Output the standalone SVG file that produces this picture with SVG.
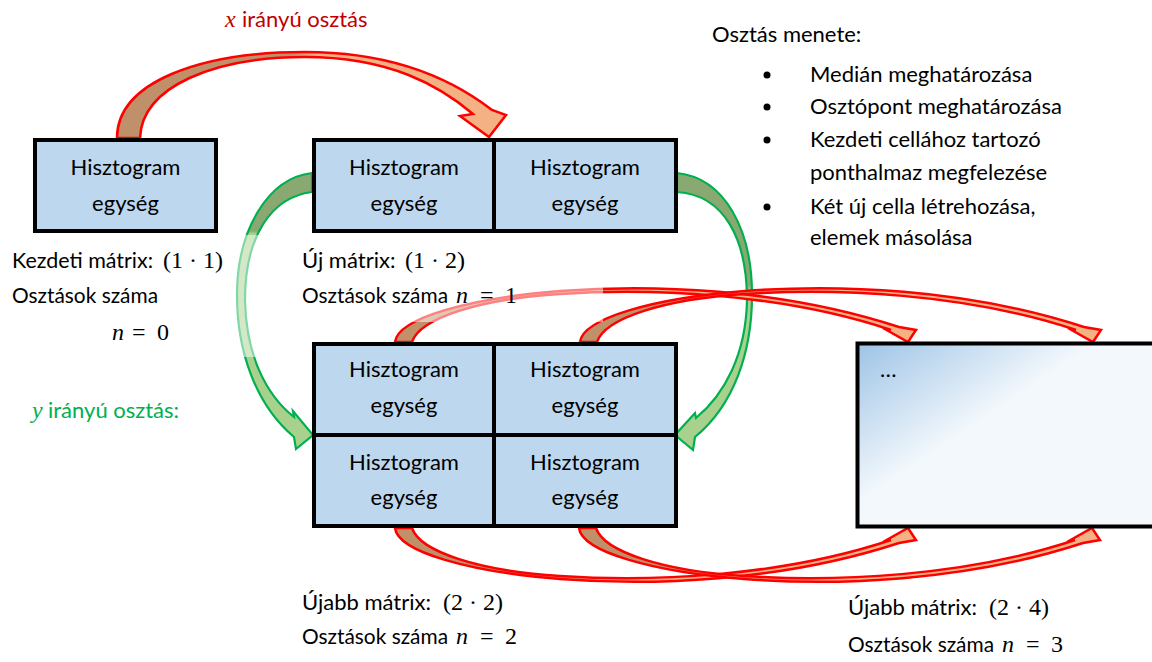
<svg xmlns="http://www.w3.org/2000/svg" width="1152" height="662" viewBox="0 0 1152 662">
<defs>
<style>
.t{font-family:Lato,"Liberation Sans",sans-serif;font-size:22px;fill:#000}
.m{font-family:"Liberation Serif",serif;font-size:24px}
.i{font-style:italic}
.box{fill:#BDD7EE;stroke:#000;stroke-width:4}
.ra{stroke:#FF0000;stroke-width:2.5;stroke-linejoin:miter}
.ga{stroke:#00B050;stroke-width:2.2;stroke-linejoin:miter}
.c{text-anchor:middle}
</style>
<linearGradient id="gx" gradientUnits="userSpaceOnUse" x1="117" y1="0" x2="506" y2="0">
<stop offset="0" stop-color="#C0906A"/><stop offset="0.45" stop-color="#C0906A"/><stop offset="0.52" stop-color="#F4B183"/><stop offset="1" stop-color="#F4B183"/>
</linearGradient>
<linearGradient id="gr" gradientUnits="userSpaceOnUse" x1="395" y1="0" x2="916" y2="0">
<stop offset="0" stop-color="#C0906A"/><stop offset="0.2" stop-color="#C0906A"/><stop offset="0.5" stop-color="#F4B183"/><stop offset="1" stop-color="#F4B183"/>
</linearGradient>
<linearGradient id="ggl" gradientUnits="userSpaceOnUse" x1="0" y1="173" x2="0" y2="449">
<stop offset="0" stop-color="#8AA872"/><stop offset="0.21" stop-color="#8AA872"/><stop offset="0.22" stop-color="#A9D18E"/><stop offset="1" stop-color="#A9D18E"/>
</linearGradient>
<linearGradient id="ggr" gradientUnits="userSpaceOnUse" x1="0" y1="173" x2="0" y2="450">
<stop offset="0" stop-color="#8AA872"/><stop offset="0.4" stop-color="#8AA872"/><stop offset="0.43" stop-color="#A9D18E"/><stop offset="1" stop-color="#A9D18E"/>
</linearGradient>
<linearGradient id="gbig" gradientUnits="userSpaceOnUse" x1="857" y1="343" x2="940" y2="466">
<stop offset="0" stop-color="#9DC3E6"/><stop offset="0.9" stop-color="#F3F8FC"/><stop offset="1" stop-color="#F3F8FC"/>
</linearGradient>
<path id="ra" d="M395,342 C398,318 470,298 560,291 C650,284 780,288 899,327 L916,330 L908,342 L883,328 L891,330 C780,293 650,288 560,294 C480,299 420,318 412,342 Z"/>
<path id="rc" d="M395,528 C398,552 470,572 560,579 C650,586 780,582 899,543 L916,540 L908,528 L883,542 L891,540 C780,577 650,582 560,576 C480,571 420,552 412,528 Z"/>
</defs>
<rect width="1152" height="662" fill="#fff"/>

<g id="connectors">
<path class="ga" fill="url(#ggl)" d="M312,173 C268,178 237,230 237,295 C237,352 256,405 294,437 L296,449 L313,435 L293,411 L294,417 C266,395 246,355 245,300 C245,235 272,197 312,192 Z"/>
<path class="ga" fill="url(#ggr)" d="M677,173 C725,178 752,230 752,295 C752,352 734,405 695,437 L693,450 L675,435 L695,413 L696,418 C724,395 746,355 747,300 C747,240 725,195 677,192 Z"/>
<path class="ra" fill="url(#gx)" d="M117,138 C117,82 200,52 305,52 C390,52 448,76 492,110 L506,115 L489,137 L460,116 L473,114 C440,86 390,57 305,57 C215,57 142,86 140,138 Z"/>
<use href="#ra" class="ra" fill="url(#gr)"/>
<g transform="translate(185,0)"><use href="#ra" class="ra" fill="url(#gr)"/></g>
<use href="#rc" class="ra" fill="url(#gr)"/>
<g transform="translate(184,0)"><use href="#rc" class="ra" fill="url(#gr)"/></g>
</g>

<rect x="0" y="235" width="262" height="122" fill="#fff" fill-opacity="0.5"/>
<rect x="300" y="238" width="303" height="84" fill="#fff" fill-opacity="0.5"/>

<g id="node-start">
<rect class="box" x="35" y="140" width="181" height="91"/>
<text class="t c" x="125.5" y="175">Hisztogram</text>
<text class="t c" x="125.5" y="211">egység</text>
</g>
<g id="node-x1">
<rect class="box" x="314" y="140" width="180" height="91"/>
<text class="t c" x="404" y="175">Hisztogram</text>
<text class="t c" x="404" y="211">egység</text>
</g>
<g id="node-x2">
<rect class="box" x="494" y="140" width="182" height="91"/>
<text class="t c" x="585" y="175">Hisztogram</text>
<text class="t c" x="585" y="211">egység</text>
</g>
<g id="node-y11">
<rect class="box" x="314" y="344" width="180" height="91"/>
<text class="t c" x="404" y="377">Hisztogram</text>
<text class="t c" x="404" y="413">egység</text>
</g>
<g id="node-y12">
<rect class="box" x="494" y="344" width="182" height="91"/>
<text class="t c" x="585" y="377">Hisztogram</text>
<text class="t c" x="585" y="413">egység</text>
</g>
<g id="node-y21">
<rect class="box" x="314" y="435" width="180" height="91"/>
<text class="t c" x="404" y="470">Hisztogram</text>
<text class="t c" x="404" y="505">egység</text>
</g>
<g id="node-y22">
<rect class="box" x="494" y="435" width="182" height="91"/>
<text class="t c" x="585" y="470">Hisztogram</text>
<text class="t c" x="585" y="505">egység</text>
</g>
<g id="node-big">
<rect x="857.5" y="343.5" width="300" height="183" fill="url(#gbig)" stroke="#000" stroke-width="4"/>
<text class="t" x="880" y="377">…</text>
</g>

<g id="labels">
<text class="t" x="225" y="27" style="fill:#C00000"><tspan class="m i">x</tspan><tspan x="242">irányú osztás</tspan></text>
<text class="t" x="32" y="418" style="fill:#00B050"><tspan class="m i">y</tspan><tspan x="48">irányú osztás:</tspan></text>

<text class="t" x="12" y="268" textLength="141" lengthAdjust="spacingAndGlyphs">Kezdeti mátrix:</text>
<text class="m" x="163" y="268">(1 · 1)</text>
<text class="t" x="12" y="303" textLength="146" lengthAdjust="spacingAndGlyphs">Osztások száma</text>
<text class="m" y="340"><tspan class="i" x="112">n</tspan><tspan x="132">=</tspan><tspan x="157">0</tspan></text>

<text class="t" x="302" y="268">Új mátrix:</text>
<text class="m" x="405" y="268">(1 · 2)</text>
<text class="t" x="302" y="303" textLength="146" lengthAdjust="spacingAndGlyphs">Osztások száma</text>
<text class="m" y="303"><tspan class="i" x="456">n</tspan><tspan x="480">=</tspan><tspan x="505">1</tspan></text>

<text class="t" x="302" y="610">Újabb mátrix:</text>
<text class="m" x="443" y="610">(2 · 2)</text>
<text class="t" x="302" y="644" textLength="146" lengthAdjust="spacingAndGlyphs">Osztások száma</text>
<text class="m" y="644"><tspan class="i" x="456">n</tspan><tspan x="480">=</tspan><tspan x="505">2</tspan></text>

<text class="t" x="848" y="615">Újabb mátrix:</text>
<text class="m" x="989" y="615">(2 · 4)</text>
<text class="t" x="848" y="652" textLength="146" lengthAdjust="spacingAndGlyphs">Osztások száma</text>
<text class="m" y="652"><tspan class="i" x="1002">n</tspan><tspan x="1026">=</tspan><tspan x="1051">3</tspan></text>

<text class="t" x="712" y="42">Osztás menete:</text>
<circle cx="767" cy="75" r="3.5"/>
<circle cx="767" cy="107" r="3.5"/>
<circle cx="767" cy="140" r="3.5"/>
<circle cx="767" cy="207" r="3.5"/>
<text class="t" x="810" y="82">Medián meghatározása</text>
<text class="t" x="810" y="114">Osztópont meghatározása</text>
<text class="t" x="810" y="147">Kezdeti cellához tartozó</text>
<text class="t" x="810" y="180">ponthalmaz megfelezése</text>
<text class="t" x="810" y="214">Két új cella létrehozása,</text>
<text class="t" x="810" y="245">elemek másolása</text>
</g>
</svg>
